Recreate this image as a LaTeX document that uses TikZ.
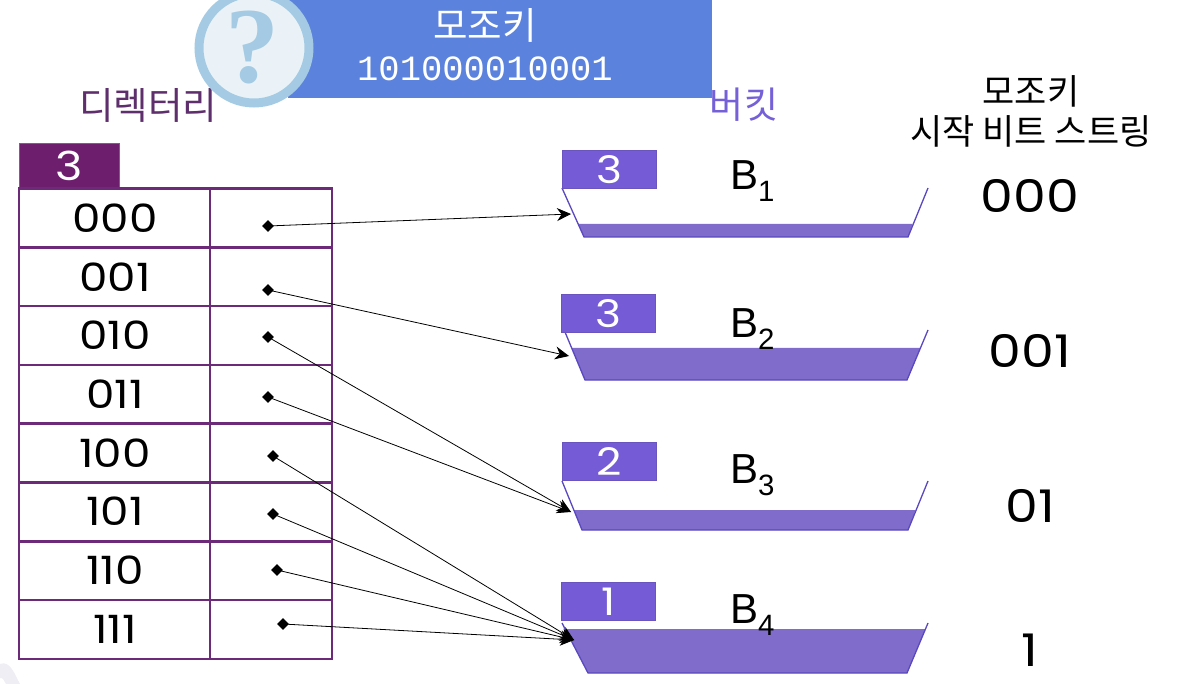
\documentclass[tikz,border=0pt]{standalone}
\usepackage{fontspec}
\setmainfont[FakeStretch=1.16]{Poppins}
\newfontfamily\cjk{Noto Sans CJK KR}
\newfontfamily\monof{Liberation Mono}
\newfontfamily\arialf{Liberation Sans}
\newfontfamily\seriff{Liberation Serif}
\usetikzlibrary{arrows.meta,positioning,shapes.geometric}
\definecolor{Ink}{HTML}{000000}
\definecolor{dirline}{HTML}{6D2A78}
\definecolor{dirfill}{HTML}{6D1F6E}
\definecolor{dirtext}{HTML}{5E2F6C}
\definecolor{regline}{HTML}{4F6FA8}
\definecolor{keyfill}{HTML}{5B82DC}
\definecolor{ringline}{HTML}{A4CBE3}
\definecolor{ringfill}{HTML}{EAF2F7}
\definecolor{tagfill}{HTML}{755BD6}
\definecolor{tagline}{HTML}{6A55C0}
\definecolor{lvlfill}{HTML}{7F6CCB}
\definecolor{lvlline}{HTML}{5A48C0}
\definecolor{bktext}{HTML}{7560D8}
\definecolor{cornerfill}{HTML}{EEEEF4}
\tikzset{
  cell/.style={rectangle,draw=dirline,line width=2.5pt,minimum height=58.8pt,inner sep=0pt,anchor=north west,text=Ink},
  lbl/.style={minimum width=191pt},
  slot/.style={minimum width=122pt},
  regbx/.style={rectangle,draw=regline,fill=dirfill,line width=1pt,text=white,minimum width=100pt,minimum height=44pt,inner sep=0pt,font=\fontsize{40}{42}\selectfont},
  tagbx/.style={rectangle,draw=tagline,fill=tagfill,line width=1pt,text=white,minimum width=94pt,minimum height=38pt,inner sep=0pt,font=\fontsize{38}{40}\selectfont},
  wall/.style={draw=lvlline,line width=1.3pt},
  lvl/.style={fill=lvlfill},
  bk/.style={font=\arialf\fontsize{42}{44}\selectfont,text=Ink,inner sep=0pt},
  prebits/.style={font=\fontsize{45}{50}\selectfont,text=Ink,inner sep=0pt},
  ttl/.style={font=\cjk\fontsize{35}{40}\selectfont,inner sep=0pt,align=center},
  ptr/.style={diamond,fill=Ink,inner sep=0pt,minimum size=12pt},
  link/.style={draw=Ink,line width=0.8pt,-{Stealth[length=14pt,width=13pt]}},
}
\begin{document}
\begin{tikzpicture}[x=1pt,y=-1pt]
\useasboundingbox (0,0) rectangle (1180,684);
\clip (0,0) rectangle (1180,684);
\fill[white] (0,0) rectangle (1180,684);
\fill[cornerfill] (0,664) to[out=20,in=120] (20,684) -- (6,684) to[out=120,in=10] (0,678) -- cycle;
% -titles-
\node[ttl,text=dirtext,font=\cjk\fontsize{37.5}{40}\selectfont] (dirttl) at (148,105) {디렉터리};
\node[ttl,text=bktext,font=\cjk\fontsize{37}{40}\selectfont] (bkttl) at (744,105) {버킷};
\node[ttl,text=Ink] (prettl) at (1031,111) {모조키\\시작 비트 스트링};
% -key-
\node[rectangle,fill=keyfill,anchor=north west,minimum width=424pt,minimum height=98pt,inner sep=0pt] (key) at (288,0) {};
\node[font=\cjk\fontsize{37.5}{40}\selectfont,text=white,inner sep=0pt] (keyname) at (485,25) {모조키};
\node[font=\monof\fontsize{35.5}{40}\selectfont,text=white,inner sep=0pt] (keybits) at (485,69) {101000010001};
\node[circle,draw=ringline,fill=ringfill,line width=9pt,minimum size=110pt,inner sep=0pt] (hint) at (254,48) {};
\node[font=\seriff\bfseries\fontsize{108}{110}\selectfont,text=ringline,inner sep=0pt] (hintmark) at (252,48) {?};
% -directory-
\node[regbx,anchor=south west] (depth) at (19,188) {3};
\foreach \n/\t [count=\i from 0] in {0/000,1/001,2/010,3/011,4/100,5/101,6/110,7/111}{
  \node[cell,lbl] (lbl\n) at (17.75,187.25+58.8*\i) {};
  \node[cell,slot] (slot\n) at (208.75,187.25+58.8*\i) {};
  \node[text=Ink,font=\fontsize{39}{42}\selectfont,inner sep=0pt] (bits\n) at (115,218+58.7*\i) {\t};
}
% -buckets-
\foreach \n/\tx/\ty/\tg/\lx/\ly/\bx/\by/\rx/\rby/\rty/\lv/\sx/\sy/\pre/\py in {
  1/562/150/3/562/188/584/237/908/237/188/224/730/181/000/196,
  2/561/294/3/565/332/585/380/907/380/330/348/730/329/001/351,
  3/562/442/2/562/481/582/530/908/530/481/510/730/475/01/506,
  4/561/582/1/562/623/588/673/907/673/623/629/730/615/1/650}{
  \pgfmathsetmacro{\tl}{\lx+(\bx-\lx)*(\lv-\ly)/(\by-\ly)}
  \pgfmathsetmacro{\tr}{907+21*(\by-\lv)/(\by-\rty)}
  \fill[lvl] (\tl,\lv) -- (\bx,\by) -- (\rx,\rby) -- (\tr,\lv) -- cycle;
  \draw[wall] (\lx,\ly) -- (\bx,\by) -- (\rx,\rby) -- (928,\rty);
  \node[tagbx,anchor=north west] (tag\n) at (\tx,\ty) {\tg};
  \node[bk,anchor=west] (bkt\n) at (\sx,\sy) {B\textsubscript{\n}};
  \node[prebits] (pre\n) at (1030,\py) {\pre};
}
% -entry points-
\coordinate (inA) at (571,214);
\coordinate (inB) at (569,356);
\coordinate (inC) at (571,512);
\coordinate (inD) at (574,640);
% -pointers-
\foreach \n/\x/\y/\t in {0/268/226/inA,1/268/290/inB,2/268/337/inC,3/268/397/inC,4/273/456/inD,5/273/514/inD,6/277/570/inD,7/283/624/inD}{
  \node[ptr] (ptr\n) at (\x,\y) {};
  \draw[link] (ptr\n.center) -- (\t);
}
\end{tikzpicture}
\end{document}
